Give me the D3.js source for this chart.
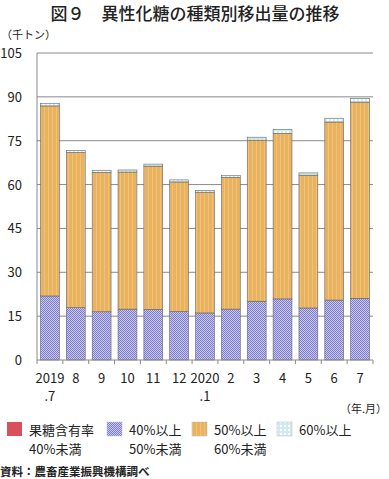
<!doctype html>
<html>
<head>
<meta charset="utf-8">
<script src="https://d3js.org/d3.v7.min.js"></script>
<style>
    body { margin: 0; background: #fff; }
    text { font-family: "Noto Sans CJK JP", "Noto Sans", sans-serif; fill: #222; }
</style>
</head>
<body>
<svg width="389" height="479"></svg>
<script>
    // months shown on the x axis (line 1 / line 2)
    var months = ["2019", "8", "9", "10", "11", "12", "2020", "2", "3", "4", "5", "6", "7"];
    var months2 = [".7", "", "", "", "", "", ".1", "", "", "", "", "", ""];

    // thousand tonnes, by fructose content
    var under40 = [0, 0, 0, 0, 0, 0, 0, 0, 0, 0, 0, 0, 0];
    var from40 = [21.9, 17.9, 16.5, 17.4, 17.3, 16.6, 16.1, 17.4, 20.1, 20.9, 17.8, 20.5, 21.1];
    var from50 = [65.0, 53.1, 47.7, 46.9, 49.0, 44.3, 41.3, 45.1, 55.1, 56.6, 45.4, 60.9, 67.1];
    var over60 = [0.9, 0.7, 0.7, 0.7, 0.7, 0.7, 0.6, 0.6, 1.0, 1.4, 0.8, 1.3, 1.3];

    var yTicks = [0, 15, 30, 45, 60, 75, 90, 105];
    var seriesNames = ["under40", "from40", "from50", "over60"];
    var legendLines = [["果糖含有率", "40%未満"], ["40%以上", "50%未満"], ["50%以上", "60%未満"], ["60%以上", ""]];

    var svg = d3.select("svg");
    var plotL = 37, plotR = 373, plotT = 53, plotB = 360;

    // patterns
    var defs = svg.append("defs");
    var pBlue = defs.append("pattern").attr("id", "pBlue").attr("width", 2).attr("height", 2)
        .attr("patternUnits", "userSpaceOnUse");
    pBlue.append("rect").attr("width", 2).attr("height", 2).attr("fill", "#c9c8f0");
    pBlue.append("rect").attr("width", 1).attr("height", 1).attr("fill", "#7d7bcc");
    pBlue.append("rect").attr("x", 1).attr("y", 1).attr("width", 1).attr("height", 1).attr("fill", "#7d7bcc");

    var pOrange = defs.append("pattern").attr("id", "pOrange").attr("width", 4).attr("height", 4)
        .attr("patternUnits", "userSpaceOnUse");
    pOrange.append("rect").attr("width", 4).attr("height", 4).attr("fill", "#e8b25e");
    pOrange.append("rect").attr("width", 1).attr("height", 4).attr("fill", "#efc27c");

    var pCyan = defs.append("pattern").attr("id", "pCyan").attr("width", 4).attr("height", 4)
        .attr("patternUnits", "userSpaceOnUse");
    pCyan.append("rect").attr("width", 4).attr("height", 4).attr("fill", "#ffffff");
    pCyan.append("circle").attr("cx", 2).attr("cy", 2).attr("r", 1.3)
        .attr("fill", "none").attr("stroke", "#8fd0d8").attr("stroke-width", 0.7);

    var fills = {under40: "#d9505a", from40: "url(#pBlue)", from50: "url(#pOrange)", over60: "url(#pCyan)"};

    var x = d3.scaleBand().domain(d3.range(months.length)).range([plotL, plotR]).paddingInner(0.27).paddingOuter(0.135);
    var y = d3.scaleLinear().domain([0, 105]).range([plotB, plotT]);

    // title
    svg.append("text").attr("x", 195).attr("y", 20).attr("text-anchor", "middle")
        .attr("font-size", "17px").attr("font-weight", 500).text("図９　異性化糖の種類別移出量の推移");
    svg.append("text").attr("x", 1).attr("y", 39).attr("font-size", "11px").text("（千トン）");

    // grid
    svg.append("g").selectAll("line").data(yTicks.filter(function (d) { return d > 0; })).enter()
        .append("line")
        .attr("x1", plotL).attr("x2", plotR)
        .attr("y1", function (d) { return y(d); }).attr("y2", function (d) { return y(d); })
        .attr("stroke", "#8a8a8a").attr("stroke-width", 1);

    svg.append("g").selectAll("text").data(yTicks).enter()
        .append("text")
        .attr("x", 22).attr("y", function (d) { return y(d) + 5; })
        .attr("text-anchor", "end").attr("font-size", "13px")
        .attr("font-family", "Liberation Sans, Arial, sans-serif")
        .text(function (d) { return d; });

    // stacked bars
    var rows = months.map(function (m, i) {
        return {i: i, under40: under40[i], from40: from40[i], from50: from50[i], over60: over60[i]};
    });
    var stack = d3.stack().keys(seriesNames)(rows);

    svg.append("g").selectAll("g").data(stack).enter()
        .append("g")
        .attr("fill", function (s) { return fills[s.key]; })
        .selectAll("rect").data(function (s) { return s; }).enter()
        .append("rect")
        .attr("x", function (d) { return x(d.data.i); })
        .attr("width", x.bandwidth())
        .attr("y", function (d) { return y(d[1]); })
        .attr("height", function (d) { return y(d[0]) - y(d[1]); })
        .attr("stroke", function (d) { return d[1] - d[0] > 0 ? "#666" : "none"; })
        .attr("stroke-width", 0.6);

    // axes
    svg.append("line").attr("x1", plotL).attr("x2", plotL).attr("y1", plotT).attr("y2", plotB)
        .attr("stroke", "#8a8a8a");
    svg.append("line").attr("x1", plotL).attr("x2", plotR).attr("y1", plotB).attr("y2", plotB)
        .attr("stroke", "#8a8a8a");
    var step = x.step();
    svg.append("g").selectAll("line").data(d3.range(months.length + 1)).enter()
        .append("line")
        .attr("x1", function (d) { return plotL + d * step; }).attr("x2", function (d) { return plotL + d * step; })
        .attr("y1", plotB).attr("y2", plotB + 4)
        .attr("stroke", "#8a8a8a");

    var xl = svg.append("g").selectAll("g").data(months).enter().append("g");
    xl.append("text")
        .attr("x", function (d, i) { return x(i) + x.bandwidth() / 2; }).attr("y", 383)
        .attr("text-anchor", "middle").attr("font-size", "13px")
        .attr("font-family", "Liberation Sans, Arial, sans-serif")
        .text(function (d) { return d; });
    xl.append("text")
        .attr("x", function (d, i) { return x(i) + x.bandwidth() / 2; }).attr("y", 401)
        .attr("text-anchor", "middle").attr("font-size", "13px")
        .attr("font-family", "Liberation Sans, Arial, sans-serif")
        .text(function (d, i) { return months2[i]; });

    svg.append("text").attr("x", 387).attr("y", 413).attr("text-anchor", "end")
        .attr("font-size", "11px").text("（年.月）");

    // legend
    var legX = [7, 107, 192, 277];
    var leg = svg.append("g").selectAll("g").data(seriesNames).enter().append("g")
        .attr("transform", function (d, i) { return "translate(" + legX[i] + ",422)"; });
    leg.append("rect").attr("width", 15).attr("height", 14)
        .attr("fill", function (d) { return fills[d]; })
        .attr("stroke", function (d, i) { return i === 0 ? "none" : "#bbb"; }).attr("stroke-width", 0.5);
    leg.append("text").attr("x", 22).attr("y", 12.5).attr("font-size", "13px")
        .text(function (d, i) { return legendLines[i][0]; });
    leg.append("text").attr("x", 22).attr("y", 31.5).attr("font-size", "13px")
        .text(function (d, i) { return legendLines[i][1]; });

    svg.append("text").attr("x", 0).attr("y", 476).attr("font-size", "11.5px").attr("font-weight", "bold")
        .text("資料：農畜産業振興機構調べ");
</script>
</body>
</html>
